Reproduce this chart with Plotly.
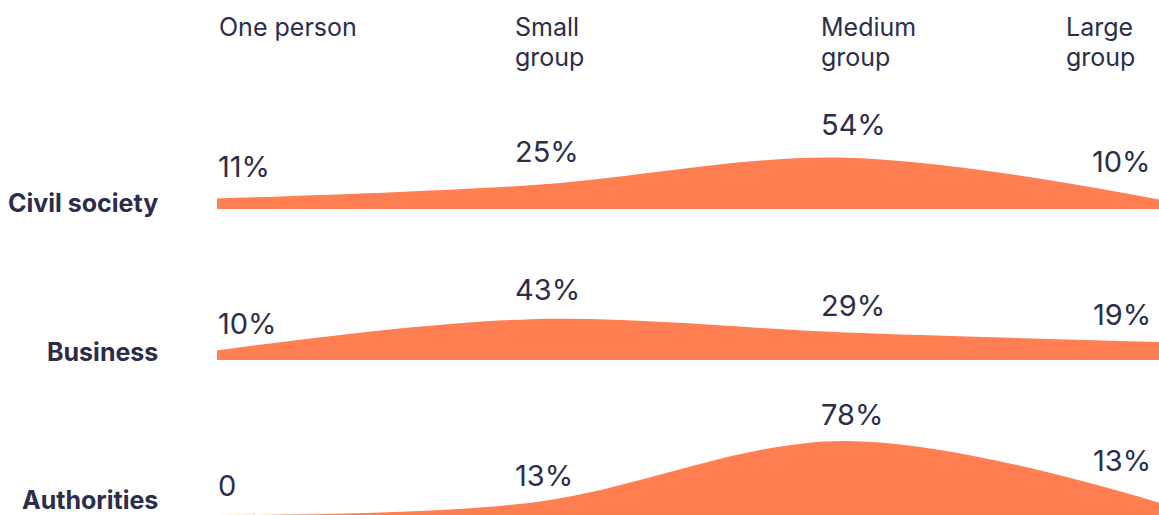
import plotly.graph_objects as go
from plotly.subplots import make_subplots

categories = ["One person", "Small<br>group", "Medium<br>group", "Large<br>group"]
rows = ["Civil society", "Business", "Authorities"]
civil_society = [11, 25, 54, 10]
business = [10, 43, 29, 19]
authorities = [0, 13, 78, 13]
labels_civil = ["11%", "25%", "54%", "10%"]
labels_business = ["10%", "43%", "29%", "19%"]
labels_auth = ["0", "13%", "78%", "13%"]

series = [civil_society, business, authorities]
labels = [labels_civil, labels_business, labels_auth]

W, H = 1159, 515
L = 217
FILL = "#FF7E52"
TXT = "#2B2D4A"
FONT = "Inter"


def px(x):
    return (x - L) / (W - L)


def py(y):
    return 1 - y / H


fig = make_subplots(rows=3, cols=1, shared_xaxes=False)

xs = list(range(len(categories)))
baselines = [209, 360, 515]
px_per_unit = 0.95
yrange = 100
domains = []
for b in baselines:
    top = b - yrange * px_per_unit
    domains.append([max(0.0, py(b)), py(top)])

for i, vals in enumerate(series):
    fig.add_trace(go.Scatter(
        x=xs, y=vals, mode="lines",
        line=dict(shape="spline", smoothing=1, width=0, color=FILL),
        fill="tozeroy", fillcolor=FILL, hoverinfo="skip", showlegend=False,
    ), row=i + 1, col=1)

for i in range(3):
    ax = "" if i == 0 else str(i + 1)
    fig.update_layout(**{
        f"xaxis{ax}": dict(range=[0, 3], visible=False, showgrid=False, zeroline=False),
        f"yaxis{ax}": dict(range=[0, yrange], domain=domains[i], visible=False,
                           showgrid=False, zeroline=False),
    })

annotations = []
header_px = [217, 513, 819, 1064]
line_y = [27, 57]
for c, hx in zip(categories, header_px):
    for k, part in enumerate(c.split("<br>")):
        annotations.append(dict(
            text=part, xref="paper", yref="paper", x=px(hx), y=py(line_y[k]),
            xanchor="left", yanchor="middle", showarrow=False, align="left",
            font=dict(family=FONT, size=25, color=TXT)))

row_label_y = [203, 352, 500]
for r, ry in zip(rows, row_label_y):
    annotations.append(dict(
        text=r, xref="paper", yref="paper", x=px(160), y=py(ry),
        xanchor="right", yanchor="middle", showarrow=False,
        font=dict(family=FONT, size=25, color=TXT, weight="bold")))

xanchors = ["left", "left", "left", "right"]
xshifts = [-1, -18, -26, -6]
yshifts = [[32, 34, 33, 38], [27, 30, 27, 27], [30, 27, 26, 42]]
for i, (vals, labs) in enumerate(zip(series, labels)):
    ax = "" if i == 0 else str(i + 1)
    for j, (v, t) in enumerate(zip(vals, labs)):
        annotations.append(dict(
            text=t, xref=f"x{ax}", yref=f"y{ax}", x=xs[j], y=v,
            xanchor=xanchors[j], yanchor="middle", xshift=xshifts[j],
            yshift=yshifts[i][j], showarrow=False,
            font=dict(family=FONT, size=29, color=TXT)))

fig.update_layout(
    width=W, height=H,
    margin=dict(l=L, r=0, t=0, b=0),
    paper_bgcolor="white", plot_bgcolor="rgba(0,0,0,0)",
    annotations=annotations, showlegend=False,
)

fig.write_html(
    "out.html",
    config={"displayModeBar": False, "staticPlot": True},
    post_script="document.body.style.margin='0';document.body.style.overflow='hidden';",
)
